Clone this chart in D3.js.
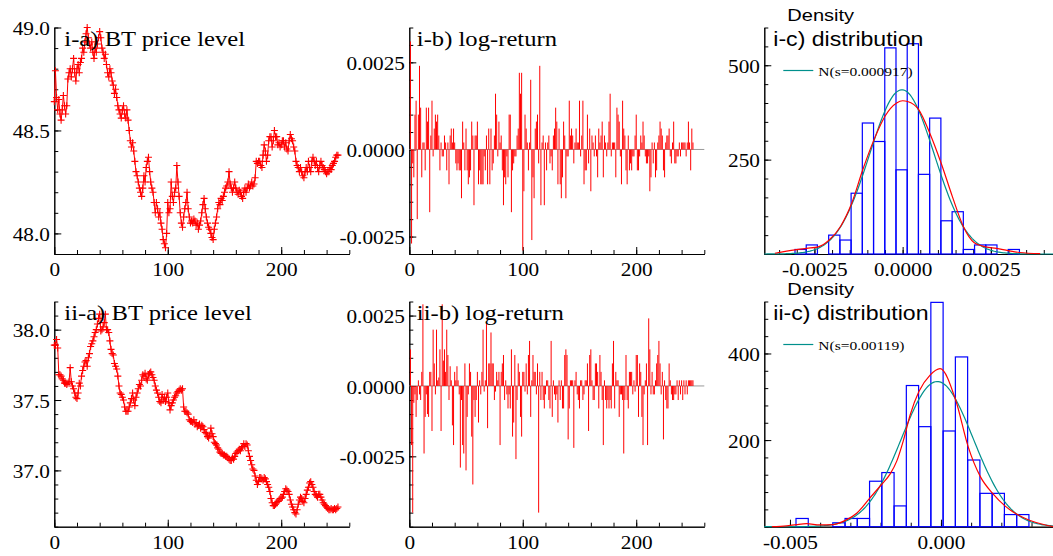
<!DOCTYPE html>
<html>
<head>
<meta charset="utf-8">
<title>BT price level, log-return and distribution</title>
<script src="https://cdnjs.cloudflare.com/ajax/libs/d3/7.8.5/d3.min.js"></script>
<style>
  body { margin: 0; background: #fff; }
  #canvas svg { display: block; }
</style>
</head>
<body>
<div id="canvas"></div>
<script>
/*
 Data
*/
// i) BT price level, one value per observation 0..250
var priceA = [
  48.64, 48.79, 48.66, 48.60, 48.65, 48.58, 48.55, 48.60, 48.67, 48.62, 48.58, 48.62,
  48.75, 48.78, 48.80, 48.76, 48.80, 48.85, 48.78, 48.74, 48.80, 48.82, 48.78, 48.83,
  48.85, 48.90, 48.88, 48.93, 48.97, 49.00, 48.95, 48.92, 48.90, 48.93,
  48.88, 48.85, 48.90, 48.88, 48.92, 48.95, 48.98, 48.95, 48.90, 48.88,
  48.85, 48.87, 48.82, 48.78, 48.76, 48.80, 48.78, 48.74, 48.72, 48.68, 48.70, 48.66,
  48.62, 48.60, 48.58, 48.56, 48.60, 48.62, 48.58, 48.56, 48.60, 48.55, 48.50, 48.45, 48.42, 48.44, 48.40,
  48.35, 48.30, 48.28, 48.25, 48.22, 48.20, 48.18, 48.22, 48.28, 48.25, 48.32, 48.35, 48.37, 48.30,
  48.25, 48.22, 48.20, 48.15, 48.10, 48.15, 48.12, 48.08, 48.10, 48.05, 48.02, 47.97, 47.95, 47.93, 48.00,
  48.15, 48.10, 48.12, 48.25, 48.18, 48.15, 48.20, 48.22, 48.33, 48.25, 48.18, 48.10, 48.05, 48.03, 48.08, 48.12, 48.15, 48.20,
  48.12, 48.08, 48.05, 48.06, 48.05, 48.07, 48.06, 48.04, 48.05, 48.02, 48.04, 48.06, 48.10, 48.14, 48.17, 48.12, 48.08,
  48.05, 48.03, 48.02, 48.00, 47.98, 47.97, 48.02, 48.05, 48.08, 48.12, 48.15, 48.14,
  48.17, 48.16, 48.18, 48.20, 48.22, 48.23, 48.25, 48.30, 48.24, 48.22, 48.20, 48.22, 48.25, 48.22, 48.20, 48.19, 48.21, 48.20,
  48.18, 48.17, 48.20, 48.22, 48.20, 48.22, 48.24, 48.22, 48.23, 48.25, 48.23, 48.24, 48.27, 48.35, 48.34, 48.35, 48.35,
  48.33, 48.32, 48.38, 48.43, 48.40, 48.35, 48.38, 48.45, 48.47, 48.47, 48.42, 48.45, 48.50, 48.47, 48.47,
  48.43, 48.44, 48.42, 48.43, 48.45, 48.45, 48.42, 48.44, 48.41, 48.40, 48.45, 48.48, 48.46, 48.45, 48.42, 48.40, 48.35,
  48.33, 48.32, 48.30, 48.32, 48.30, 48.28, 48.27, 48.30, 48.32, 48.30, 48.35, 48.32, 48.30, 48.35, 48.37,
  48.35, 48.33, 48.35, 48.32, 48.30, 48.33, 48.35, 48.33, 48.32, 48.31, 48.30, 48.29, 48.30, 48.30, 48.32, 48.31,
  48.33, 48.34, 48.35, 48.37, 48.38, 48.38
];

// ii) BT price level
var priceB = [
  37.89, 37.89, 37.93, 37.87, 37.68, 37.68, 37.67, 37.65, 37.64, 37.62, 37.62, 37.61,
  37.62, 37.63, 37.73, 37.63, 37.60, 37.58, 37.55, 37.52, 37.51, 37.55, 37.62, 37.60, 37.67, 37.71,
  37.74, 37.77, 37.78, 37.74, 37.80, 37.83, 37.88, 37.90, 37.92, 37.95, 37.98, 38.00, 38.04, 38.08, 38.11,
  37.99, 38.00, 38.02, 38.05, 38.11, 38.00, 38.00, 37.98, 37.92, 37.86, 37.83, 37.82,
  37.76, 37.74, 37.72, 37.67, 37.60, 37.55, 37.54, 37.52, 37.50, 37.45, 37.42,
  37.42, 37.42, 37.45, 37.48, 37.51, 37.55, 37.50, 37.46, 37.52, 37.55, 37.58, 37.61, 37.60, 37.64,
  37.68, 37.67, 37.69, 37.65, 37.64, 37.68, 37.69, 37.70, 37.68, 37.66, 37.64, 37.60, 37.57, 37.55,
  37.52, 37.49, 37.48, 37.54, 37.50, 37.52, 37.49, 37.52, 37.55, 37.48, 37.43, 37.46, 37.48,
  37.50, 37.52, 37.53, 37.55, 37.56, 37.57, 37.58, 37.57, 37.58, 37.45, 37.42, 37.42, 37.41,
  37.40, 37.36, 37.35, 37.35, 37.34, 37.36, 37.33, 37.34, 37.31, 37.32, 37.33, 37.30, 37.32,
  37.31, 37.29, 37.27, 37.26, 37.24, 37.23, 37.25, 37.30, 37.26, 37.24, 37.20, 37.19, 37.18,
  37.16, 37.15, 37.13, 37.12, 37.12, 37.11, 37.11, 37.10, 37.10, 37.09, 37.08, 37.07, 37.07,
  37.09, 37.08, 37.10, 37.12, 37.13, 37.14, 37.15, 37.14, 37.16, 37.17, 37.19, 37.17, 37.19,
  37.18, 37.14, 37.10, 37.07, 37.04, 37.01, 37.00, 36.96, 36.93, 36.90, 36.92, 36.95, 36.95,
  36.94, 36.93, 36.95, 36.94, 36.92, 36.90, 36.88, 36.85, 36.80, 36.77, 36.75, 36.75, 36.76,
  36.77, 36.78, 36.79, 36.80, 36.80, 36.81, 36.83, 36.85, 36.87, 36.86, 36.85, 36.83, 36.79,
  36.76, 36.74, 36.72, 36.70, 36.69, 36.72, 36.76, 36.79, 36.81, 36.80, 36.78, 36.77, 36.80,
  36.83, 36.86, 36.88, 36.91, 36.92, 36.90, 36.88, 36.85, 36.83, 36.82, 36.81, 36.83, 36.83,
  36.81, 36.79, 36.77, 36.76, 36.75, 36.74, 36.73, 36.72, 36.72, 36.73, 36.72, 36.72, 36.73, 36.72, 36.73, 36.74
];

// log-returns in basis points (1e-4), observations 1..250
var retA_bp = [
  31, -27, -4, -8, 10, 14, -20, 10, 24, 12, -8, 2, 2,
  -6, 12, 8, 12, -18, 4, 14, -2, 6, 10, 8, 10, 4, -6, 2, -2, -2,
  4, 2, -6, 2, -10, 4, 6, 2, 6, 2, -4, -6, -4, -6, -6, -14, 8, 2,
  -6, 6, -6, -10, -8, -6, 8, 4, -16, 4, 4, 8, -10, -6, -10, -10, -10, -2,
  -6, 4, -10, 6, -10, 6, -6, -4, 4, 16, 10, -2, 8, 2,
  4, -6, -16, -8, -10, -2, -8, 10, 10, -18, -6, -4, -2, -2,
  4, 6, 22, 16, 22, -29, -12, 10, 6, 2, -6, 2, 20, -26, -8, -14, 6, 8, 10, -4, 24, -16, 2,
  4, -16, 2, -6, 2, 4, -4, -2, -6, 4, 6, 12, 8, -10,
  6, -10, -14, -8, 8, 4, -14, -2, -2, 14, 4, 6, 4, -4, 2, 6, 2, 2, 14, -2,
  4, 14, -10, -6, -6, 10, -4, 6, -12, 4, 2, -2, 4, -2, -8, 6, 2, 4, 8, -8,
  4, 2, -2, 2, 8, 16, -2, 2, 2, 2, -8, 12, 10, 8, -2, -10, 14, 6, 4, -6,
  -10, 4, -6, -4, -6, -2, -2, 4, 10, -6, -6, -2, 4, 2, 8, 4, -2, -4, -4, -2,
  -12, -8, 2, -4, 2, -8, -6, 2, 4, 8, 6, 4, -6, -8, 2, 4, 4, 6, -2, -4,
  2, 8, -4, -4, -2, -2, 2, -2, 2, 2, 2, 2, -2, 2, 8, 2, -6, 6, 2
];

var retB_bp = [
  13, -21, -45, -6, -3, -11, -5, 2, -3, -5, 5, 29, -24, -11, -3, -10, -11, 5, 5, -16, 20, 8, -3, 20, 2, 3,
  13, -16, 29, 9, 13, 5, 20, 11, -5, 7, 2, -14, -21, 5, 2, 7, 2, -3, -29, -5, -21, -24, 8, -30, -11, -3,
  8, 5, -18, -35, -5, -11, -5, 5, -13, 2, -3, 5, 20, -2, 2, 22, -15, 8, 8, 19, 8, 8, -5, -2, 5, 2,
  5, -21, 5, 8, 11, -5, 2, -3, -8, -3, -8, 13, -18, -13, 11, -26, -5, 8, 5, -11, -18, 5, 5, -2, 8, -3,
  11, 16, -11, 2, 11, 5, 5, -3, 8, -45, 5, -5, 5, -5, -8, -3, 2, 2, -5, -8, 16, -11, 2, -3, -5, -3, -13, 2,
  -5, 2, -8, -8, 11, 13, 11, -19, -8, 2, 2, 2, -22, 2, 5, -3, -5, -8, 2, 2, -5, -3, 2, 2, 8, -16,
  11, 13, 2, -5, -5, 8, 8, 5, -8, 11, 5, -5, -21, 2, -5, -8, -5, -8, -5, -8, 8, 16, -8, 5, 2, 2,
  -11, -3, -3, -5, -24, -5, 11, -5, -8, 5, 5, 5, -3, 2, -2, 11, 11, -11, 8, 5, -11, -21, -3, 2, 8, -21,
  24, 13, -3, 5, -3, -3, 2, 8, 11, 16, 8, -3, 5, -19, 2, -5, -8, -8, 8, 2, -3, -5, -5, -3, -3, 2,
  -5, 2, -3, 2, -5, 2, -3, 2, -3, 2, 2, 2, 2, 2
];

// histogram densities (bar heights), first bin edge and bin width
var histA = [12, 24, 0, 50, 37, 161, 347, 298, 546, 223, 557, 211, 360, 88, 112, 12, 24, 24, 0, 12];
var histAStart = -0.00305, histAWidth = 0.000318;
var histB = [19, 0, 0, 9, 19, 19, 105, 125, 48, 326, 231, 518, 221, 392, 154, 77, 77, 28, 28];
var histBStart = -0.00480, histBWidth = 0.000406;

// kernel density (red) points
var kdeAx = [-0.00362, -0.00305, -0.00272, -0.00239, -0.00208, -0.00176, -0.00144, -0.00113, -0.00081, -0.0005,
  -0.00017, 0, 0.00014, 0.00046, 0.00077, 0.00109, 0.00141, 0.00172, 0.00203, 0.00235, 0.00266, 0.00299, 0.00331, 0.0039];
var kdeAy = [2, 11, 15, 19, 37, 73, 135, 223, 303, 365, 400, 406, 404, 382, 320, 241, 152, 73, 30, 19, 15, 9, 4, 1];
var kdeBx = [-0.0056, -0.00511, -0.00478, -0.00445, -0.00401, -0.00356, -0.00318, -0.00279, -0.00237, -0.00196,
  -0.00168, -0.00146, -0.00124, -0.00102, -0.00073, -0.00036, -0.00003, 0.00049, 0.0009, 0.00131, 0.00171,
  0.00212, 0.00253, 0.00293, 0.0034, 0.00373];
var kdeBy = [0, 2, 5, 7, 4, 5, 14, 31, 65, 98, 122, 152, 200, 258, 312, 350, 365, 292, 185, 115, 77, 48, 28, 15, 5, 0];

// fitted normal: mean and s from the legend
var normA = { mu: -0.00002, s: 0.000917 };
var normB = { mu: -0.00012, s: 0.00119 };

var titles = ["i-a) BT price level", "i-b) log-return", "i-c) distribution",
  "ii-a) BT price level", "ii-b) log-return", "ii-c) distribution"];
var legendLabels = ["N(s=0.000917)", "N(s=0.00119)"];

/*
 Layout
*/
var W = 1053, H = 556,
  colLeft = [54.3, 409.3, 764.3],
  plotW = 295,
  rowTop = [27.5, 301.5],
  rowBottom = [254, 526.7],
  serif = "'Liberation Serif', 'DejaVu Serif', serif",
  sans = "'Liberation Sans', Arial, sans-serif",
  red = "#ff0000", blue = "#0000ff", teal = "#00908c";

var svg = d3.select("#canvas").append("svg")
  .attr("width", W).attr("height", H);

function range(a, b, step) {
  // tick positions without float drift
  var n = Math.round((b - a) / step);
  return d3.range(n + 1).map(function (k) { return +(a + k * step).toFixed(6); });
}

// text that is a little wider than the installed font
function label(g, x, y, txt, size, family, sx, anchor) {
  return g.append("text")
    .attr("transform", "translate(" + x + "," + y + ") scale(" + sx + ",1)")
    .attr("text-anchor", anchor || "start")
    .style("font-family", family)
    .style("font-size", size + "px")
    .attr("fill", "#000")
    .text(txt);
}

function drawAxes(g, x, y, xt, yt) {
  var x0 = y.range()[0], yLeft = x.range()[0];
  var ax = g.append("g").attr("transform", "translate(0," + x0 + ")");
  ax.append("g").call(d3.axisBottom(x).tickValues(xt.minor).tickSize(-4).tickSizeOuter(0).tickFormat(""));
  ax.append("g").call(d3.axisBottom(x).tickValues(xt.major).tickSize(-7).tickSizeOuter(0)
    .tickPadding(8.5).tickFormat(xt.fmt));
  var ay = g.append("g").attr("transform", "translate(" + yLeft + ",0)");
  ay.append("g").call(d3.axisLeft(y).tickValues(yt.minor).tickSize(-4).tickSizeOuter(0).tickFormat(""));
  ay.append("g").call(d3.axisLeft(y).tickValues(yt.major).tickSize(-7).tickSizeOuter(0)
    .tickPadding(3.9).tickFormat(yt.fmt));

  g.selectAll(".domain, .tick line").attr("stroke", "#000").attr("stroke-width", 1);
  g.selectAll(".tick text")
    .attr("fill", "#000")
    .style("font-family", serif)
    .style("font-size", "19px")
    .attr("transform", "scale(1.12,1)");
  ay.selectAll(".tick text").attr("dy", "0.38em");
}

function makeScales(col, row, xDom, yDom) {
  return {
    x: d3.scaleLinear().domain(xDom).range([colLeft[col], colLeft[col] + plotW]),
    y: d3.scaleLinear().domain(yDom).range([rowBottom[row], rowTop[row]])
  };
}

/*
 a) price level
*/
function drawPrice(row, data, yDom, yMajor) {
  var s = makeScales(0, row, [0, 260], yDom);
  var g = svg.append("g");
  drawAxes(g, s.x, s.y,
    { major: [0, 100, 200], minor: range(0, 260, 20), fmt: d3.format("d") },
    { major: yMajor, minor: range(yDom[0], yDom[1], 0.1), fmt: function (d) { return d.toFixed(1); } });

  var line = d3.line().x(function (d, i) { return s.x(i); }).y(function (d) { return s.y(d); });
  g.append("path").datum(data).attr("d", line)
    .attr("fill", "none").attr("stroke", red).attr("stroke-width", 1);
  g.selectAll("path.mark").data(data).enter().append("path")
    .attr("class", "mark")
    .attr("transform", function (d, i) { return "translate(" + s.x(i) + "," + s.y(d) + ")"; })
    .attr("d", "M-3.5,0H3.5M0,-3.5V3.5")
    .attr("stroke", red).attr("stroke-width", 1.1).attr("fill", "none");
  label(g, colLeft[0] + 10, rowTop[row] + 18, titles[row * 3], 22, serif, 1.12);
}

/*
 b) log-return
*/
function drawReturn(row, bp, yDom) {
  var vals = bp.map(function (v) { return v / 1e4; });
  var s = makeScales(1, row, [0, 260], yDom);
  var g = svg.append("g");
  drawAxes(g, s.x, s.y,
    { major: [0, 100, 200], minor: range(0, 260, 20), fmt: d3.format("d") },
    { major: [-0.0025, 0, 0.0025], minor: range(yDom[0], yDom[1], 0.0005),
      fmt: function (d) { return d.toFixed(4); } });

  g.append("line")
    .attr("x1", s.x(0)).attr("x2", s.x(260))
    .attr("y1", s.y(0)).attr("y2", s.y(0))
    .attr("stroke", "#999").attr("stroke-width", 1);
  g.selectAll("line.bar").data(vals).enter().append("line")
    .attr("class", "bar")
    .attr("x1", function (d, i) { return s.x(i + 1); })
    .attr("x2", function (d, i) { return s.x(i + 1); })
    .attr("y1", s.y(0))
    .attr("y2", function (d) { return s.y(d); })
    .attr("stroke", red).attr("stroke-width", 1);
  label(g, colLeft[1] + 7.5, rowTop[row] + 18, titles[row * 3 + 1], 22, serif, 1.12);
}

/*
 c) distribution
*/
function drawDist(row, hist, start, width, kx, ky, norm, xDom, xt, yDom, yt, legendText) {
  var s = makeScales(2, row, xDom, yDom);
  var g = svg.append("g");
  drawAxes(g, s.x, s.y, xt, yt);

  g.selectAll("rect").data(hist).enter().append("rect")
    .attr("x", function (d, i) { return s.x(start + i * width); })
    .attr("width", s.x(start + width) - s.x(start))
    .attr("y", function (d) { return s.y(d); })
    .attr("height", function (d) { return s.y(0) - s.y(d); })
    .attr("fill", "none").attr("stroke", blue).attr("stroke-width", 1.2);

  var nx = d3.range(xDom[0], xDom[1], (xDom[1] - xDom[0]) / 200);
  var pdf = function (v) {
    var z = (v - norm.mu) / norm.s;
    return Math.exp(-0.5 * z * z) / (norm.s * Math.sqrt(2 * Math.PI));
  };
  g.append("path").datum(nx)
    .attr("d", d3.line().x(function (d) { return s.x(d); }).y(function (d) { return s.y(pdf(d)); }))
    .attr("fill", "none").attr("stroke", teal).attr("stroke-width", 1.2);

  var kde = kx.map(function (v, i) { return [v, ky[i]]; });
  g.append("path").datum(kde)
    .attr("d", d3.line().curve(d3.curveMonotoneX)
      .x(function (d) { return s.x(d[0]); }).y(function (d) { return s.y(d[1]); }))
    .attr("fill", "none").attr("stroke", red).attr("stroke-width", 1.2);

  var left = colLeft[2], top = rowTop[row];
  label(g, left + 23, top - 6.5, "Density", 17, sans, 1.18);
  label(g, left + 9, top + 18, titles[row * 3 + 2], 21, sans, 1.1);
  g.append("line")
    .attr("x1", left + 19).attr("x2", left + 49)
    .attr("y1", top + 43).attr("y2", top + 43)
    .attr("stroke", teal).attr("stroke-width", 1.2);
  label(g, left + 54, top + 48.5, legendText, 13.5, serif, 1.15);
}

drawPrice(0, priceA, [47.9, 49.0], [48.0, 48.5, 49.0]);
drawPrice(1, priceB, [36.6, 38.2], [37.0, 37.5, 38.0]);
drawReturn(0, retA_bp, [-0.003, 0.0035]);
drawReturn(1, retB_bp, [-0.005, 0.003]);

drawDist(0, histA, histAStart, histAWidth, kdeAx, kdeAy, normA, [-0.00392, 0.00444],
  { major: [-0.0025, 0, 0.0025], minor: range(-0.0035, 0.004, 0.0005), fmt: function (d) { return d.toFixed(4); } },
  [0, 600], { major: [250, 500], minor: range(0, 600, 50), fmt: d3.format("d") }, legendLabels[0]);
drawDist(1, histB, histBStart, histBWidth, kdeBx, kdeBy, normB, [-0.00585, 0.00392],
  { major: [-0.005, 0], minor: range(-0.005, 0.003, 0.001), fmt: function (d) { return d.toFixed(3); } },
  [0, 520], { major: [200, 400], minor: range(0, 520, 40), fmt: d3.format("d") }, legendLabels[1]);
</script>
</body>
</html>
